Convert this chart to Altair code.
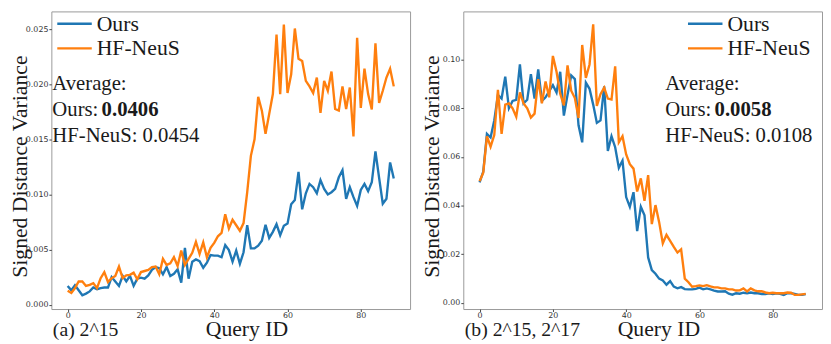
import altair as alt
import pandas as pd

# ---------------- data ----------------
query_ids = list(range(90))
series_names = ["Ours", "HF-NeuS"]
series_colors = ["#1f77b4", "#ff7f0e"]
x_ticks = [0, 20, 40, 60, 80]

ours_a = [0.0017, 0.0013, 0.00175, 0.0013, 0.00085, 0.0010, 0.0012, 0.00155, 0.0014, 0.0015,
          0.00155, 0.00155, 0.0025, 0.0021, 0.0017, 0.0026, 0.0021, 0.0026, 0.0017, 0.00235,
          0.00245, 0.00235, 0.00265, 0.00315, 0.0034, 0.0033, 0.00275, 0.0034, 0.0026, 0.0028,
          0.0032, 0.0020, 0.00515, 0.00235, 0.0039, 0.0041, 0.00395, 0.00335, 0.0038, 0.0045,
          0.00445, 0.00445, 0.0043, 0.0054, 0.00495, 0.0039, 0.0049, 0.0037, 0.00475, 0.0072,
          0.0051, 0.0051, 0.00535, 0.0058, 0.00725, 0.00605, 0.0066, 0.0073, 0.0063, 0.00715,
          0.00735, 0.0091, 0.0095, 0.01205, 0.00865, 0.0101, 0.01095, 0.01065, 0.0101, 0.0113,
          0.0105, 0.0100, 0.0102, 0.0105, 0.01155, 0.0122, 0.0096, 0.01065, 0.00975, 0.00895,
          0.0104, 0.01095, 0.0103, 0.0111, 0.0139, 0.0115, 0.00915, 0.0096, 0.0129, 0.01145]

hf_a = [0.00125, 0.00105, 0.0015, 0.0021, 0.0021, 0.0017, 0.0018, 0.00195, 0.0015, 0.0024,
        0.00295, 0.00205, 0.0024, 0.0026, 0.00345, 0.0024, 0.00265, 0.0027, 0.0029, 0.0023,
        0.00295, 0.00305, 0.00315, 0.0034, 0.00345, 0.00275, 0.00415, 0.0036, 0.00375, 0.0043,
        0.0035, 0.0049, 0.0036, 0.00415, 0.0047, 0.0057, 0.0046, 0.00565, 0.0043, 0.00515,
        0.0056, 0.0062, 0.0065, 0.0082, 0.0069, 0.0077, 0.0072, 0.0067, 0.0074, 0.0102,
        0.0135, 0.0150, 0.01885, 0.0176, 0.0155, 0.0173, 0.0191, 0.0245, 0.0191, 0.0254,
        0.0192, 0.0209, 0.02505, 0.0223, 0.0221, 0.0203, 0.0198, 0.0192, 0.0206, 0.0174,
        0.0203, 0.0194, 0.02115, 0.01775, 0.0176, 0.0198, 0.01775, 0.0197, 0.01525, 0.0242,
        0.01785, 0.0214, 0.0191, 0.0177, 0.0237, 0.0183, 0.0194, 0.0206, 0.0214, 0.0198]

ours_b = [0.0495, 0.054, 0.0695, 0.068, 0.075, 0.0855, 0.084, 0.093, 0.080, 0.083,
          0.0835, 0.098, 0.082, 0.0835, 0.094, 0.084, 0.096, 0.083, 0.0845, 0.087,
          0.0895, 0.0865, 0.095, 0.077, 0.0855, 0.0935, 0.092, 0.073, 0.066, 0.0905,
          0.088, 0.0815, 0.074, 0.075, 0.089, 0.0625, 0.0685, 0.064, 0.0555, 0.0585,
          0.0435, 0.0395, 0.0455, 0.0295, 0.0395, 0.036, 0.0187, 0.0135, 0.012, 0.010,
          0.0092, 0.0075, 0.009, 0.0067, 0.006, 0.0065, 0.0057, 0.0056, 0.0056, 0.0058,
          0.0063, 0.0056, 0.006, 0.0056, 0.0051, 0.0047, 0.0047, 0.0048, 0.0038, 0.0034,
          0.004, 0.0038, 0.0042, 0.004, 0.0043, 0.004, 0.004, 0.0037, 0.0037, 0.004,
          0.0037, 0.004, 0.0037, 0.0033, 0.004, 0.004, 0.0037, 0.0033, 0.0033, 0.0036]

hf_b = [0.050, 0.0535, 0.0685, 0.0642, 0.069, 0.0876, 0.0695, 0.0815, 0.082, 0.080,
        0.0765, 0.0865, 0.082, 0.080, 0.0762, 0.0778, 0.092, 0.082, 0.091, 0.0845,
        0.1015, 0.095, 0.086, 0.0812, 0.0976, 0.0872, 0.0842, 0.076, 0.106, 0.0925,
        0.098, 0.1145, 0.081, 0.0858, 0.0885, 0.084, 0.0836, 0.0972, 0.066, 0.0685,
        0.061, 0.057, 0.0552, 0.0458, 0.0512, 0.042, 0.0525, 0.0324, 0.0402, 0.0332,
        0.0245, 0.028, 0.0255, 0.023, 0.0207, 0.022, 0.010, 0.0085, 0.0067, 0.0069,
        0.0072, 0.0069, 0.0073, 0.0068, 0.0064, 0.0064, 0.006, 0.006, 0.0056, 0.0056,
        0.0051, 0.0052, 0.006, 0.0047, 0.006, 0.0052, 0.0048, 0.0048, 0.0043, 0.004,
        0.0042, 0.004, 0.004, 0.004, 0.0043, 0.0042, 0.0033, 0.0033, 0.0035, 0.0037]

y_ticks_a = [0.0, 0.005, 0.010, 0.015, 0.020, 0.025]
y_ticks_b = [0.0, 0.02, 0.04, 0.06, 0.08, 0.10]
average_title = "Average:"
avg_a = ["0.0406", "0.0454"]
avg_b = ["0.0058", "0.0108"]
captions = ["(a) 2^15", "(b) 2^15, 2^17"]

# ---------------- style ----------------
W, H = 364, 302
SERIF = "Liberation Serif"
SANS = "DejaVu Sans"
INK = "#1a1a1a"


def text_layer(s, x, y, size=21, weight="normal"):
    return alt.Chart(pd.DataFrame({"t": [s]})).mark_text(
        align="left", baseline="alphabetic", font=SERIF, fontSize=size,
        fontWeight=weight, color=INK
    ).encode(x=alt.value(x), y=alt.value(y), text="t:N")


def make_panel(ours, hf, y_ticks, y_fmt, y_domain, caption, avg, tx, legend_x):
    df = pd.DataFrame({
        "Query ID": query_ids + query_ids,
        "value": ours + hf,
        "series": ["Ours"] * len(ours) + ["HF-NeuS"] * len(hf),
    })
    base = alt.Chart(df).mark_line(strokeWidth=2.4, clip=True).encode(
        x=alt.X("Query ID:Q",
                scale=alt.Scale(domain=[-4.45, 93.45], nice=False, zero=False),
                axis=alt.Axis(values=x_ticks, format="d", title="Query ID",
                              titleX=198, titleY=27,
                              titleBaseline="alphabetic", titleAlign="center",
                              labelFlush=False, labelPadding=0)),
        y=alt.Y("value:Q",
                scale=alt.Scale(domain=y_domain, nice=False, zero=False),
                axis=alt.Axis(values=y_ticks, format=y_fmt,
                              title="Signed Distance Variance",
                              titleX=-25, titleY=157, labelPadding=1,
                              titleBaseline="alphabetic", titleAlign="center")),
        color=alt.Color("series:N",
                        scale=alt.Scale(domain=series_names, range=series_colors),
                        legend=alt.Legend(title=None, orient="none",
                                          legendX=legend_x, legendY=0,
                                          symbolType="stroke", symbolSize=1225,
                                          symbolStrokeWidth=2.5,
                                          labelFont=SERIF, labelFontSize=22,
                                          labelColor=INK, labelOffset=3.5,
                                          clipHeight=25, rowPadding=0, padding=0)),
    )
    l_ours = base.transform_filter(alt.datum.series == "Ours")
    l_hf = base.transform_filter(alt.datum.series == "HF-NeuS")
    return alt.layer(
        l_ours, l_hf,
        text_layer(average_title, tx, 80),
        text_layer("Ours:", tx, 106),
        text_layer(avg[0], tx + 50, 106, weight="bold"),
        text_layer("HF-NeuS: " + avg[1], tx, 133),
        text_layer(caption, 1.5, H + 27, size=20),
    ).properties(width=W, height=H)


p1 = make_panel(ours_a, hf_a, y_ticks_a, ".3f", [-0.0004, 0.0266], captions[0], avg_a, 1, 4.5)
p2 = make_panel(ours_b, hf_b, y_ticks_b, ".2f", [-0.0025, 0.1198], captions[1], avg_b, 205, 226.5)

chart = alt.hconcat(p1, p2, spacing=9).resolve_scale(
    x="independent", y="independent", color="independent"
).resolve_legend(color="independent").properties(
    padding={"left": 0, "top": 0, "right": 0, "bottom": 0}
).configure_view(
    stroke="#999999", strokeWidth=1
).configure_axis(
    grid=False, domain=False, tickColor="#444444", tickSize=2.5, tickWidth=1,
    labelFont=SANS, labelFontSize=8, labelColor="#333333",
    titleFont=SERIF, titleFontSize=22, titleFontWeight="normal", titleColor=INK
)

chart.save("out.html", embed_options={"renderer": "svg", "actions": False})
